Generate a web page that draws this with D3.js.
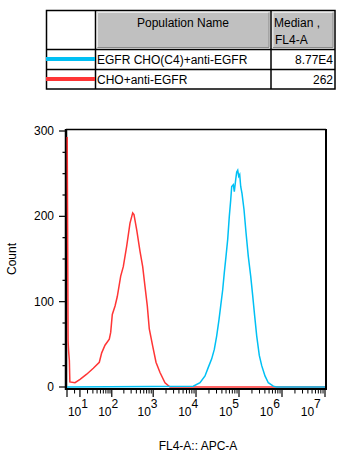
<!DOCTYPE html>
<html><head><meta charset="utf-8">
<script src="https://cdn.jsdelivr.net/npm/d3@7"></script>
<style>body{margin:0;background:#fff}svg{display:block;font-family:"Liberation Sans",Arial,sans-serif}</style>
</head><body>
<svg id="c" width="344" height="459"></svg>
<script>
// ---- data ----
const populations = ["EGFR CHO(C4)+anti-EGFR", "CHO+anti-EGFR"];
const medians = ["8.77E4", "262"];
const colors = ["#00c0f4", "#ff3535"];
const headers = ["Population Name", "Median ,", "FL4-A"];
// fluorescence value, count
const cyanSeries = [[0,0],[8650,1],[12390,5],[16190,13],[19300,23],[23160,33],[26640,44],[30290,60],[34260,79],[37520,95],[41770,114],[45510,134],[49850,153],[54590,173],[59490,200],[64130,219],[67620,235],[73690,237],[77770,229],[83750,243],[88400,252],[93310,254],[98380,247],[103800,249],[109500,235],[117400,227],[130700,208],[145500,181],[164500,153],[187100,130],[208200,107],[231700,83],[257900,60],[296500,37],[337300,25],[402200,13],[480000,5],[627600,1],[752900,0],[1e7,0]];
const redSeries = [[0.1,293],[0.35,177],[0.6,54],[0.9,42],[1.35,31],[1.65,6],[5.35,5],[10.1,9],[18.7,15],[30.9,22],[46.4,29],[54.1,40],[66.5,49],[86.3,56],[93.8,64],[103.1,85],[121.1,95],[137.8,106],[167.4,130],[193.8,141],[234.5,165],[281.8,192],[327.2,204],[351.2,202],[408,184],[489,159],[566,141],[641,118],[727,95],[810,68],[974,48],[1164,29],[1445,17],[1891,5],[2476,0],[1e7,0]];
const yMajor = [0, 100, 200, 300];
const yMinor = [25, 50, 75, 125, 150, 175, 225, 250, 275];
const xMajorExp = [1, 2, 3, 4, 5, 6, 7];
const xMinorMult = [2, 3, 4, 5, 6, 7, 8, 9];

const svg = d3.select("#c");
const x = d3.scaleSymlog().constant(10).domain([0, 1e7]).range([67, 325]);
const y = d3.scaleLinear().domain([0, 300]).range([387, 131]);

// ---- table ----
const t = svg.append("g");
t.append("rect").attr("x", 97).attr("y", 12).attr("width", 172.5).attr("height", 36).attr("fill", "#c0c0c0");
t.append("rect").attr("x", 272.5).attr("y", 12).attr("width", 61).attr("height", 36).attr("fill", "#c0c0c0");
// bevels
[[97,12,269.5,48],[272.5,12,333.5,48]].forEach(([a,b,c2,d]) => {
  t.append("path").attr("d", `M${a+0.5},${d-0.5}V${b+0.5}H${c2-0.5}`).attr("stroke", "#e8e8e8").attr("fill", "none");
  t.append("path").attr("d", `M${a+0.5},${d-0.5}H${c2-0.5}V${b+0.5}`).attr("stroke", "#8a8a8a").attr("fill", "none");
});
t.append("rect").attr("x", 46.5).attr("y", 10.5).attr("width", 288.5).attr("height", 78.5).attr("fill", "none").attr("stroke", "#000").attr("stroke-width", 1.5);
[95.5, 271].forEach(v => t.append("line").attr("x1", v).attr("x2", v).attr("y1", 10.5).attr("y2", 89).attr("stroke", "#000").attr("stroke-width", 1.5));
[49.5, 69.5].forEach(v => t.append("line").attr("x1", 46.5).attr("x2", 335).attr("y1", v).attr("y2", v).attr("stroke", "#000").attr("stroke-width", 1.5));
t.append("text").attr("x", 183).attr("y", 27).attr("text-anchor", "middle").attr("font-size", 12).text(headers[0]);
t.append("text").attr("x", 274).attr("y", 27).attr("font-size", 12).text(headers[1]);
t.append("text").attr("x", 275).attr("y", 44).attr("font-size", 12).text(headers[2]);
populations.forEach((p, i) => {
  const yy = 59 + i * 20;
  t.append("line").attr("x1", 46).attr("x2", 95).attr("y1", yy).attr("y2", yy).attr("stroke", colors[i]).attr("stroke-width", 4);
  t.append("text").attr("x", 97).attr("y", yy + 5).attr("font-size", 12).text(p);
  t.append("text").attr("x", 333).attr("y", yy + 5).attr("font-size", 12).attr("text-anchor", "end").text(medians[i]);
});

// frame
svg.append("line").attr("x1", 66).attr("x2", 326).attr("y1", 129.5).attr("y2", 129.5).attr("stroke", "#000").attr("stroke-width", 1.5);
svg.append("line").attr("x1", 326).attr("x2", 326).attr("y1", 129).attr("y2", 390).attr("stroke", "#000").attr("stroke-width", 2);
svg.append("line").attr("x1", 66).attr("x2", 66).attr("y1", 129).attr("y2", 390).attr("stroke", "#000").attr("stroke-width", 2.5);
svg.append("line").attr("x1", 65).attr("x2", 327).attr("y1", 389).attr("y2", 389).attr("stroke", "#000").attr("stroke-width", 2);

// ---- plot ----
const line = d3.line().x(d => x(d[0])).y(d => y(d[1]));
svg.append("path").datum(redSeries).attr("d", line).attr("fill", "none").attr("stroke", colors[1]).attr("stroke-width", 1.5);
svg.append("path").datum(cyanSeries).attr("d", line).attr("fill", "none").attr("stroke", colors[0]).attr("stroke-width", 1.5);

// y ticks
yMajor.forEach(v => {
  svg.append("line").attr("x1", 59).attr("x2", 66).attr("y1", y(v)).attr("y2", y(v)).attr("stroke", "#000").attr("stroke-width", 1.2);
  svg.append("text").attr("x", 54).attr("y", y(v) + 4).attr("text-anchor", "end").attr("font-size", 12).text(v);
});
yMinor.forEach(v => {
  svg.append("line").attr("x1", 62.5).attr("x2", 66).attr("y1", y(v)).attr("y2", y(v)).attr("stroke", "#000").attr("stroke-width", 1.2);
});

// x ticks
svg.append("line").attr("x1", x(0)).attr("x2", x(0)).attr("y1", 389).attr("y2", 397).attr("stroke", "#000").attr("stroke-width", 1.2);
xMajorExp.forEach(e => {
  const xv = x(Math.pow(10, e));
  svg.append("line").attr("x1", xv).attr("x2", xv).attr("y1", 389).attr("y2", 397).attr("stroke", "#000").attr("stroke-width", 1.2);
  const tx = svg.append("text").attr("x", xv + 8 - 0.05 * (xv - 80)).attr("y", 416).attr("text-anchor", "end").attr("font-size", 12);
  tx.append("tspan").text("10");
  tx.append("tspan").attr("dy", -8).text(e);
});
[0, 1, 2, 3, 4, 5, 6].forEach(e => {
  xMinorMult.forEach(m => {
    const v = m * Math.pow(10, e);
    if (e === 0 && m !== 5) return;
    const xv = x(v);
    svg.append("line").attr("x1", xv).attr("x2", xv).attr("y1", 389).attr("y2", 393.5).attr("stroke", "#000").attr("stroke-width", 1);
  });
});

svg.append("text").attr("x", 198).attr("y", 450).attr("text-anchor", "middle").attr("font-size", 12).text("FL4-A:: APC-A");
svg.append("text").attr("transform", "translate(16,259) rotate(-90)").attr("text-anchor", "middle").attr("font-size", 12).text("Count");
</script>
</body></html>
